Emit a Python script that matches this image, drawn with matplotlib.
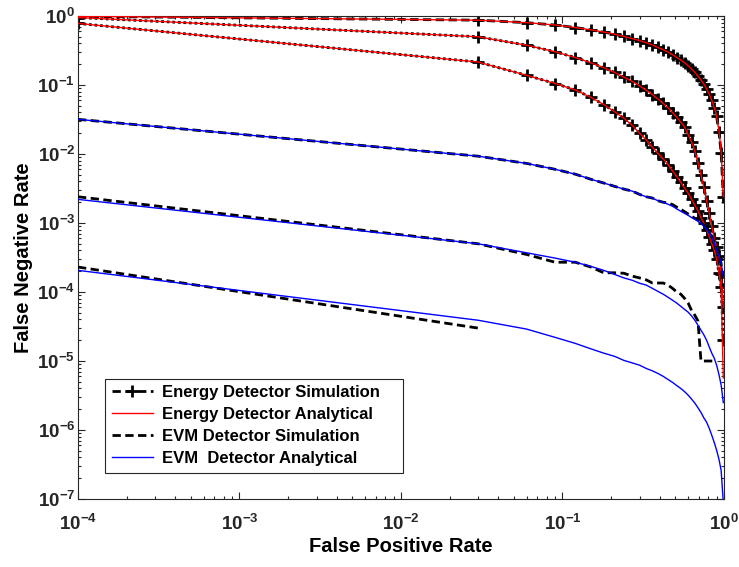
import matplotlib
matplotlib.use('Agg')
import matplotlib.pyplot as plt
from matplotlib.lines import Line2D
from matplotlib.ticker import LogLocator
import numpy as np

plt.rcParams['font.family'] = 'Liberation Sans'
plt.rcParams['font.weight'] = 'bold'
plt.rcParams['mathtext.fontset'] = 'custom'
plt.rcParams['mathtext.rm'] = 'Liberation Sans:bold'
plt.rcParams['mathtext.it'] = 'Liberation Sans:bold'
plt.rcParams['mathtext.bf'] = 'Liberation Sans:bold'

# false alarm grid shared by all curves
fpr = [1e-4, 0.03, 0.06, 0.09, 0.12, 0.15, 0.18, 0.21, 0.24, 0.27, 0.30, 0.33,
       0.36, 0.39, 0.42, 0.45, 0.48, 0.51, 0.54, 0.57, 0.60, 0.63, 0.66, 0.69,
       0.72, 0.75, 0.78, 0.81, 0.84, 0.87, 0.90, 0.93, 0.96, 0.99]

# energy detector, analytical miss probability (three SNRs)
ed_ana_1 = [0.99, 0.87, 0.80, 0.74, 0.68, 0.63, 0.585, 0.545, 0.505, 0.47, 0.44, 0.41,
            0.38, 0.35, 0.325, 0.30, 0.275, 0.25, 0.23, 0.21, 0.19, 0.17, 0.152, 0.135,
            0.118, 0.103, 0.088, 0.074, 0.060, 0.047, 0.035, 0.022, 0.011, 0.0024]
ed_ana_2 = [0.95, 0.50, 0.377, 0.303, 0.25, 0.209, 0.178, 0.152, 0.13, 0.113, 0.097, 0.084,
            0.0726, 0.0627, 0.054, 0.0466, 0.0399, 0.0341, 0.029, 0.0245, 0.019, 0.015, 0.011, 0.0075,
            0.005, 0.0033, 0.0021, 0.0014, 0.0009, 0.0006, 0.00045, 0.00033, 0.00018, 6e-5]
ed_ana_3 = [0.78, 0.215, 0.138, 0.105, 0.085, 0.066, 0.052, 0.041, 0.033, 0.026, 0.020, 0.016,
            0.0125, 0.0102, 0.0085, 0.007, 0.0057, 0.0047, 0.0039, 0.0032, 0.0027, 0.0022, 0.0018, 0.0015,
            0.0012, 0.001, 0.0008, 0.00063, 0.0005, 0.0004, 0.0003, 0.00019, 0.00011, 5.7e-6]

# energy detector, Monte Carlo
ed_sim_1 = [0.99, 0.87, 0.80, 0.74, 0.68, 0.63, 0.585, 0.545, 0.505, 0.47, 0.44, 0.41,
            0.38, 0.35, 0.325, 0.30, 0.275, 0.25, 0.23, 0.21, 0.19, 0.17, 0.152, 0.135,
            0.118, 0.103, 0.088, 0.074, 0.060, 0.047, 0.035, 0.021, 0.0105, 0.0024]
ed_sim_2 = [0.95, 0.50, 0.377, 0.303, 0.25, 0.209, 0.178, 0.152, 0.13, 0.113, 0.097, 0.084,
            0.0726, 0.0627, 0.054, 0.0466, 0.0399, 0.0341, 0.029, 0.0245, 0.019, 0.015, 0.011, 0.0075,
            0.005, 0.0033, 0.0021, 0.0014, 0.0009, 0.0006, 0.00045, 0.00033, 0.00018, 6e-5]
ed_sim_3 = [0.78, 0.215, 0.138, 0.105, 0.085, 0.066, 0.052, 0.041, 0.033, 0.026, 0.020, 0.016,
            0.0125, 0.0102, 0.0085, 0.007, 0.0057, 0.0047, 0.0039, 0.0032, 0.0027, 0.0022, 0.0018, 0.0015,
            0.0012, 0.001, 0.0008, 0.00063, 0.0005, 0.0004, 0.0003, 0.00019, 0.00012, 2e-5]

# EVM detector, analytical
evm_ana_1 = [0.0318, 0.0093, 0.0073, 0.0060, 0.0051, 0.0043, 0.0038, 0.0034, 0.0031, 0.0029, 0.0026, 0.0024,
             0.0023, 0.0021, 0.0020, 0.00187, 0.00175, 0.0016, 0.00148, 0.00138, 0.00129, 0.0012, 0.00113, 0.00106,
             0.00099, 0.00090, 0.00081, 0.00071, 0.00062, 0.00051, 0.00040, 0.00033, 0.00026, 0.00017]
evm_ana_2 = [0.0022, 5.0e-4, 3.7e-4, 3.1e-4, 2.7e-4, 2.35e-4, 2.06e-4, 1.8e-4, 1.6e-4, 1.48e-4, 1.34e-4, 1.26e-4,
             1.13e-4, 1.02e-4, 9.3e-5, 8.4e-5, 7.6e-5, 6.9e-5, 6.2e-5, 5.6e-5, 5.1e-5, 4.5e-5, 3.9e-5, 3.3e-5,
             2.8e-5, 2.4e-5, 2.0e-5, 1.6e-5, 1.3e-5, 1.1e-5, 8.7e-6, 6.4e-6, 4.5e-6, 2.5e-6]
evm_ana_3 = [2.06e-4, 3.9e-5, 2.9e-5, 2.2e-5, 1.8e-5, 1.5e-5, 1.3e-5, 1.17e-5, 1.02e-5, 9.4e-6, 8.7e-6, 7.8e-6,
             7.2e-6, 6.6e-6, 6.0e-6, 5.4e-6, 4.9e-6, 4.4e-6, 4.0e-6, 3.6e-6, 3.2e-6, 2.8e-6, 2.45e-6, 2.1e-6,
             1.8e-6, 1.5e-6, 1.3e-6, 1.06e-6, 8.4e-7, 6.6e-7, 5.1e-7, 3.8e-7, 2.6e-7, 9e-8]

# EVM detector, Monte Carlo (nan where no misses were counted)
nan = np.nan
evm_sim_1 = [0.0318, 0.0093, 0.0073, 0.0060, 0.0051, 0.0043, 0.0038, 0.0034, 0.0031, 0.0029, 0.0026, 0.0024,
             0.0023, 0.0021, 0.0020, 0.00195, 0.00185, 0.0017, 0.00158, 0.00146, 0.00135, 0.00125, 0.00117, 0.0011,
             0.00102, 0.00093, 0.00084, 0.00074, 0.00064, 0.00052, 0.00041, 0.00033, 0.00026, 0.00012]
evm_sim_2 = [0.0024, 5.0e-4, 3.5e-4, 2.7e-4, 2.7e-4, 2.3e-4, 1.9e-4, 1.9e-4, 1.87e-4, 1.7e-4, 1.6e-4, 1.5e-4,
             1.35e-4, 1.35e-4, 1.35e-4, 1.26e-4, 1.13e-4, 1.0e-4, 9.3e-5, 8.1e-5, 6.9e-5, 5.4e-5, 4.6e-5, 3.8e-5,
             1e-5, 1e-5, 1e-5, 1e-5, 1e-5, 1e-5, nan, nan, nan, nan]
evm_sim_3 = [2.3e-4, 3.0e-5] + [nan] * 32

fig = plt.figure(figsize=(7.39, 5.67), dpi=100)
ax = fig.add_axes([0.1055, 0.1199, 0.8742, 0.8519])

dash = (0, (3, 1.6))
dots = (0, (1, 1))

# energy detector curves
ax.plot(fpr, ed_sim_1, color='k', ls=dash, lw=2, marker='+', ms=8, mew=2, zorder=2)
ax.plot(fpr, ed_sim_2, color='k', ls=dots, lw=2, marker='+', ms=8, mew=2, zorder=2)
ax.plot(fpr, ed_sim_3, color='k', ls=dots, lw=2, marker='+', ms=8, mew=2, zorder=2)
for ed in (ed_ana_1, ed_ana_2, ed_ana_3):
    ax.plot(fpr, ed, color='r', lw=1, zorder=3)

# EVM detector curves
for ev in (evm_sim_1, evm_sim_2, evm_sim_3):
    ax.plot(fpr, ev, color='k', ls=dash, lw=2, zorder=4)
for ev in (evm_ana_1, evm_ana_2, evm_ana_3):
    ax.plot(fpr, ev, color='b', lw=1, zorder=5)

ax.set_xscale('log')
ax.set_yscale('log')
ax.set_xlim(1e-4, 1)
ax.set_ylim(1e-7, 1)
ax.xaxis.set_major_locator(LogLocator(base=10, numticks=10))
ax.yaxis.set_major_locator(LogLocator(base=10, numticks=10))
ax.xaxis.set_minor_locator(LogLocator(base=10, subs=np.arange(2, 10), numticks=20))
ax.yaxis.set_minor_locator(LogLocator(base=10, subs=np.arange(2, 10), numticks=20))
ax.xaxis.get_offset_text().set_visible(False)
ax.yaxis.get_offset_text().set_visible(False)

axcol = '#262626'
for sp in ax.spines.values():
    sp.set_color(axcol)
    sp.set_linewidth(0.8)
ax.tick_params(which='both', direction='in', top=True, right=True, colors=axcol,
               labelcolor='#262626', labelsize=13.5, width=0.8)
ax.tick_params(which='major', length=5)
ax.tick_params(which='minor', length=2.5)
ax.tick_params(axis='x', which='major', pad=11)
ax.tick_params(axis='y', which='major', pad=2)

ax.set_xlabel('False Positive Rate', fontsize=14.5, fontweight='bold', labelpad=2)
ax.set_ylabel('False Negative Rate', fontsize=14.5, fontweight='bold', labelpad=3)

handles = [
    Line2D([], [], color='k', ls=dash, lw=2, marker='+', ms=8, mew=2),
    Line2D([], [], color='r', lw=1),
    Line2D([], [], color='k', ls=dash, lw=2),
    Line2D([], [], color='b', lw=1),
]
labels = ['Energy Detector Simulation', 'Energy Detector Analytical',
          'EVM Detector Simulation', 'EVM  Detector Analytical']
leg = ax.legend(handles, labels, loc='lower left', bbox_to_anchor=(0.042, 0.054, 0.461, 0.195),
                mode='expand', borderaxespad=0, fancybox=False, framealpha=1, edgecolor=axcol,
                prop={'size': 12, 'weight': 'bold'}, handlelength=2.45,
                labelspacing=0.42, borderpad=0.4, handletextpad=0.55)
leg.get_frame().set_linewidth(0.8)

fig.savefig('out.png', dpi=100)
